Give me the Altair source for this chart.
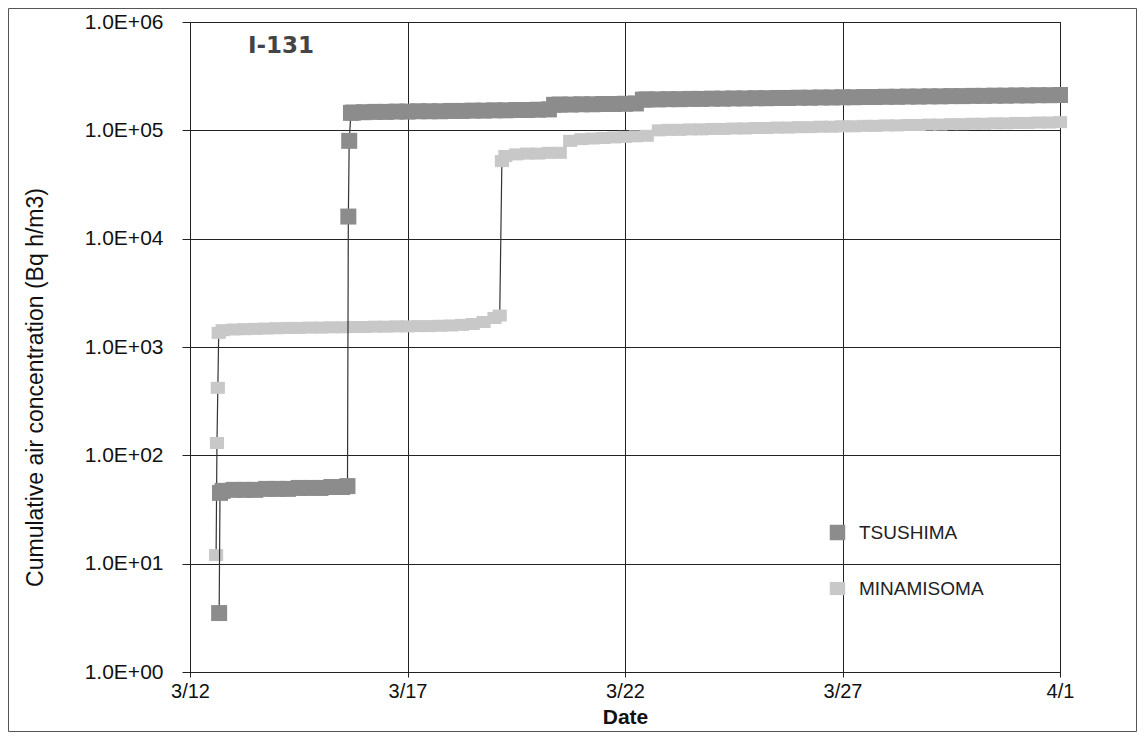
import altair as alt
import pandas as pd

# ---------------- data ----------------
SERIES = ["TSUSHIMA", "MINAMISOMA"]

# days after 2011-03-12 00:00, cumulative air concentration (Bq h/m3)
T_DAY = [0.67, 0.69, 0.75, 1.0, 1.25, 1.5, 1.75, 2.0, 2.25, 2.5, 2.75, 3.0, 3.25, 3.5,
         3.62, 3.64, 3.66, 3.70, 3.75, 4.0, 4.25, 4.5, 4.75, 5.0, 5.25, 5.5, 5.75, 6.0,
         6.25, 6.5, 6.75, 7.0, 7.25, 7.5, 7.75, 8.0, 8.25, 8.37, 8.5, 8.75, 9.0, 9.25,
         9.5, 9.75, 10.0, 10.25, 10.41, 10.5, 10.75, 11.0, 11.25, 11.5, 11.75, 12.0,
         12.25, 12.5, 12.75, 13.0, 13.25, 13.5, 13.75, 14.0, 14.25, 14.5, 14.75, 15.0,
         15.25, 15.5, 15.75, 16.0, 16.25, 16.5, 16.75, 17.0, 17.25, 17.5, 17.75, 18.0,
         18.25, 18.5, 18.75, 19.0, 19.25, 19.5, 19.75, 20.0]
T_VAL = [3.5, 45, 47, 48, 48, 48, 49, 49, 49, 50, 50, 50, 51, 51,
         52, 1.6e4, 8.0e4, 1.45e5, 1.46e5, 1.47e5, 1.48e5, 1.48e5, 1.49e5, 1.49e5, 1.50e5, 1.50e5, 1.50e5, 1.51e5,
         1.51e5, 1.52e5, 1.52e5, 1.53e5, 1.53e5, 1.54e5, 1.54e5, 1.55e5, 1.56e5, 1.72e5, 1.73e5, 1.73e5, 1.74e5, 1.74e5,
         1.75e5, 1.75e5, 1.76e5, 1.77e5, 1.92e5, 1.93e5, 1.93e5, 1.94e5, 1.94e5, 1.95e5, 1.95e5, 1.96e5,
         1.96e5, 1.97e5, 1.97e5, 1.98e5, 1.98e5, 1.99e5, 1.99e5, 2.00e5, 2.00e5, 2.01e5, 2.01e5, 2.02e5,
         2.02e5, 2.03e5, 2.03e5, 2.04e5, 2.04e5, 2.05e5, 2.05e5, 2.06e5, 2.06e5, 2.07e5, 2.07e5, 2.08e5,
         2.08e5, 2.09e5, 2.09e5, 2.10e5, 2.10e5, 2.11e5, 2.11e5, 2.12e5]

M_DAY = [0.60, 0.62, 0.64, 0.66, 0.75, 1.0, 1.25, 1.5, 1.75, 2.0, 2.25, 2.5, 2.75, 3.0,
         3.25, 3.5, 3.75, 4.0, 4.25, 4.5, 4.75, 5.0, 5.25, 5.5, 5.75, 6.0, 6.25, 6.5,
         6.75, 7.0, 7.12, 7.17, 7.25, 7.5, 7.75, 8.0, 8.25, 8.5, 8.74, 9.0, 9.25, 9.5,
         9.75, 10.0, 10.25, 10.5, 10.78, 11.0, 11.25, 11.5, 11.75, 12.0, 12.25, 12.5,
         12.75, 13.0, 13.25, 13.5, 13.75, 14.0, 14.25, 14.5, 14.75, 15.0, 15.25, 15.5,
         15.75, 16.0, 16.25, 16.5, 16.75, 17.0, 17.25, 17.5, 17.75, 18.0, 18.25, 18.5,
         18.75, 19.0, 19.25, 19.5, 19.75, 20.0]
M_VAL = [12, 130, 420, 1350, 1430, 1450, 1460, 1470, 1480, 1490, 1500, 1500, 1510, 1510,
         1520, 1520, 1530, 1530, 1540, 1540, 1550, 1550, 1560, 1560, 1570, 1580, 1600, 1630,
         1700, 1850, 1950, 5.2e4, 5.8e4, 6.0e4, 6.1e4, 6.1e4, 6.2e4, 6.2e4, 8.0e4, 8.3e4, 8.4e4, 8.5e4,
         8.6e4, 8.7e4, 8.8e4, 8.9e4, 1.00e5, 1.01e5, 1.01e5, 1.02e5, 1.02e5, 1.03e5, 1.03e5, 1.04e5,
         1.04e5, 1.05e5, 1.05e5, 1.06e5, 1.06e5, 1.07e5, 1.07e5, 1.08e5, 1.08e5, 1.09e5, 1.09e5, 1.10e5,
         1.10e5, 1.11e5, 1.11e5, 1.12e5, 1.12e5, 1.13e5, 1.13e5, 1.14e5, 1.14e5, 1.15e5, 1.15e5, 1.16e5,
         1.16e5, 1.17e5, 1.17e5, 1.18e5, 1.18e5, 1.19e5]

Y_TICKS = [1, 10, 100, 1000, 10000, 100000, 1000000]
X_TICK_DATES = ["2011-03-12", "2011-03-17", "2011-03-22", "2011-03-27", "2011-04-01"]
X_TICK_LABELS = ["3/12", "3/17", "3/22", "3/27", "4/1"]

# ---------------- build table ----------------
BASE = pd.Timestamp("2011-03-12")


def table(name, days, vals):
    return pd.DataFrame({
        "series": name,
        "day": days,
        "date": [(BASE + pd.Timedelta(days=d)).strftime("%Y-%m-%dT%H:%M:%S") for d in days],
        "value": vals,
    })


df = pd.concat([table("MINAMISOMA", M_DAY, M_VAL), table("TSUSHIMA", T_DAY, T_VAL)],
               ignore_index=True)

W, H = 870, 650
FONT = "Liberation Sans"


def dt(s):
    t = pd.Timestamp(s)
    return alt.DateTime(year=t.year, month=t.month, date=t.day)


n_x = len(X_TICK_LABELS) - 1
x_enc = alt.X(
    "date:T",
    scale=alt.Scale(domain=[dt(X_TICK_DATES[0]), dt(X_TICK_DATES[-1])]),
    axis=alt.Axis(
        values=[dt(s) for s in X_TICK_DATES],
        labelExpr="%s[round(datum.index * %d)]" % (str(X_TICK_LABELS), n_x),
        labelFlush=False,
        title="Date",
        titleFontWeight="bold",
        titleFontSize=21,
        titleX=W / 2,
        titleY=45,
        titleBaseline="middle",
        tickSize=5,
        labelPadding=4,
        labelFontSize=20,
    ),
)
y_enc = alt.Y(
    "value:Q",
    scale=alt.Scale(type="log", domain=[1, 1e6]),
    axis=alt.Axis(
        values=Y_TICKS,
        labelExpr="'1.0E+0' + round(log(datum.value) / LN10)",
        title="Cumulative air concentration (Bq h/m3)",
        titleFontWeight="normal",
        titleFontSize=23,
        titleAngle=270,
        titleX=-155,
        titleY=365,
        titleAlign="center",
        titleBaseline="middle",
        tickSize=8,
        labelPadding=19,
        labelFontSize=21,
    ),
)

color_scale = alt.Scale(domain=SERIES, range=["#8c8c8c", "#c8c8c8"])
shape_scale = alt.Scale(domain=SERIES, range=["square", "M-1,-0.85H1V0.85H-1Z"])
legend = alt.Legend(
    title=None, orient="none", legendX=638, legendY=501,
    labelFont=FONT, labelFontSize=19, labelColor="#222",
    rowPadding=36, symbolSize=240, labelOffset=12,
)


def series_layers(name, size):
    base = alt.Chart(df).transform_filter(alt.datum.series == name)
    line = base.mark_line(color="#333333", strokeWidth=1.2).encode(
        x=x_enc, y=y_enc, order="day:Q")
    pts = base.mark_point(filled=True, opacity=1, size=size, strokeWidth=0).encode(
        x=x_enc, y=y_enc,
        color=alt.Color("series:N", scale=color_scale, legend=legend),
        shape=alt.Shape("series:N", scale=shape_scale, legend=legend),
    )
    return [line, pts]


frame = alt.Chart(pd.DataFrame({"k": [0]})).mark_rect(
    fill="transparent", stroke="#555555", strokeWidth=1
).encode(
    x=alt.value(-181.5), x2=alt.value(W + 76.5),
    y=alt.value(-13.5), y2=alt.value(H + 59.5),
)

chart = alt.layer(
    frame,
    *series_layers("MINAMISOMA", 200),
    *series_layers("TSUSHIMA", 256),
).properties(
    width=W,
    height=H,
    padding={"left": 182, "top": 14, "right": 77, "bottom": 60},
    autosize=alt.AutoSizeParams(type="none"),
    title=alt.TitleParams(
        "I-131", anchor="start", frame="group", orient="top",
        dx=58, dy=61, offset=0, baseline="middle",
        font="DejaVu Sans", fontSize=23, fontWeight="bold", color="#444444",
    ),
).configure_axis(
    labelFont=FONT, titleFont=FONT, labelColor="#111111", titleColor="#111111",
    gridColor="#222222", gridOpacity=1, gridWidth=1,
    domainColor="#222222", tickColor="#222222", grid=True,
).configure_view(stroke="#222222")

chart.save("out.html", embed_options={"renderer": "svg", "actions": False})
